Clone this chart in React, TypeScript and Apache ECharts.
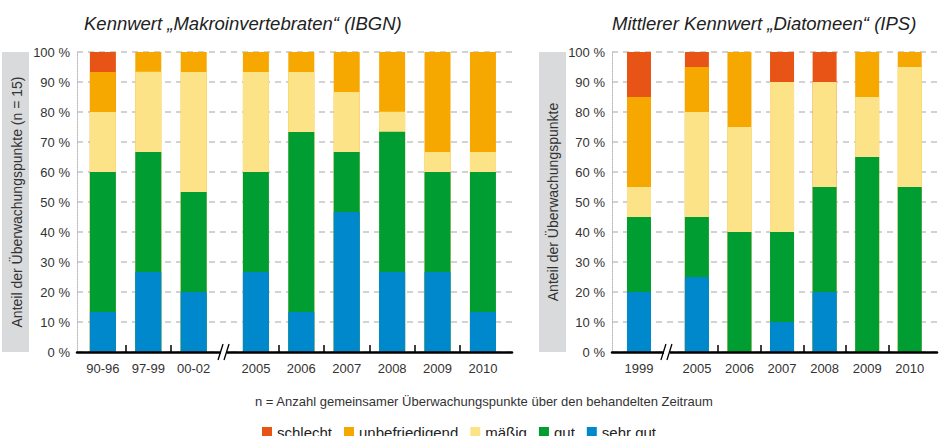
import React, { useEffect, useRef } from "react";
import * as echarts from "echarts";

// ---------- data ----------
const LEFT_CATS = ["90-96", "97-99", "00-02", "2005", "2006", "2007", "2008", "2009", "2010"];
const LEFT_POS = [0, 1, 2, 3.37, 4.37, 5.37, 6.37, 7.37, 8.37];
const LEFT_TICKS = [0.5, 1.5, 3.87, 4.87, 5.87, 6.87, 7.87];
const LEFT_BREAK = [2.69];

const L_SEHR_GUT = [13.3, 26.7, 20, 26.7, 13.3, 46.7, 26.7, 26.7, 13.3];
const L_GUT = [46.7, 40, 33.3, 33.3, 60, 20, 46.7, 33.3, 46.7];
const L_MAESSIG = [20, 26.7, 40, 33.3, 20, 20, 6.7, 6.7, 6.7];
const L_UNBEFR = [13.3, 6.7, 6.7, 6.7, 6.7, 13.3, 20, 33.3, 33.3];
const L_SCHLECHT = [6.7, 0, 0, 0, 0, 0, 0, 0, 0];

const RIGHT_CATS = ["1999", "2005", "2006", "2007", "2008", "2009", "2010"];
const RIGHT_POS = [0, 1.36, 2.36, 3.36, 4.36, 5.36, 6.36];
const RIGHT_TICKS = [1.86, 2.86, 3.86, 4.86, 5.86];
const RIGHT_BREAK = [0.68];

const R_SEHR_GUT = [20, 25, 0, 10, 20, 0, 0];
const R_GUT = [25, 20, 40, 30, 35, 65, 55];
const R_MAESSIG = [10, 35, 35, 50, 35, 20, 40];
const R_UNBEFR = [30, 15, 25, 0, 0, 15, 5];
const R_SCHLECHT = [15, 5, 0, 10, 10, 0, 0];

const Y_MAX = 100;
const Y_INTERVAL = 10;

const CLASSES = ["schlecht", "unbefriedigend", "mäßig", "gut", "sehr gut"];
const COLORS: Record<string, string> = {
  "schlecht": "#e85415",
  "unbefriedigend": "#f6a800",
  "mäßig": "#fde388",
  "gut": "#009d33",
  "sehr gut": "#0088cc",
};

const TITLE_LEFT = "Kennwert „Makroinvertebraten“ (IBGN)";
const TITLE_RIGHT = "Mittlerer Kennwert „Diatomeen“ (IPS)";
const Y_NAME_LEFT = "Anteil der Überwachungspunkte (n = 15)";
const Y_NAME_RIGHT = "Anteil der Überwachungspunkte";
const FOOTNOTE = "n = Anzahl gemeinsamer Überwachungspunkte über den behandelten Zeitraum";

const FONT = "'Liberation Sans', Arial, sans-serif";

export default function App() {
  const ref = useRef<HTMLDivElement>(null);

  useEffect(() => {
    if (!ref.current) return;
    const chart = echarts.init(ref.current, null, { renderer: "svg" });

    const labelFor = (pos: number[], cats: string[]) => (v: number) => {
      const i = pos.findIndex((p) => Math.abs(p - v) < 1e-6);
      return i >= 0 ? cats[i] : "";
    };

    const makeX = (gridIndex: number, min: number, max: number, pos: number[], cats: string[], ticks: number[]) => ({
      type: "value",
      gridIndex,
      min,
      max,
      z: 5,
      splitLine: { show: false },
      axisLine: { show: true, onZero: false, lineStyle: { color: "#000", width: 2.5 } },
      axisTick: {
        show: true,
        inside: true,
        length: 7,
        customValues: ticks,
        lineStyle: { color: "#000", width: 1.5 },
      },
      axisLabel: {
        show: true,
        customValues: pos,
        formatter: labelFor(pos, cats),
        color: "#333",
        fontSize: 13,
        fontFamily: FONT,
        margin: 10,
      },
    });

    const makeY = (gridIndex: number) => ({
      type: "value",
      gridIndex,
      min: 0,
      max: Y_MAX,
      interval: Y_INTERVAL,
      axisLine: { show: true, onZero: false, lineStyle: { color: "#b8b8b8", type: "dotted", width: 1 } },
      axisTick: { show: false },
      axisLabel: {
        formatter: (v: number) => v + " %",
        color: "#333",
        fontSize: 13,
        fontFamily: FONT,
        margin: 7,
      },
      splitLine: { show: true, lineStyle: { color: "#c4c4c4", type: [6, 5], width: 1.6 } },
    });

    // Stacked bars drawn as overlapping cumulative bars (value x-axis cannot stack on y)
    const buildSeries = (sets: [string, number[]][], pos: number[], idx: number, width: number) => {
      // sets ordered bottom -> top
      const cum: number[][] = [];
      sets.forEach(([, vals], k) => {
        cum.push(vals.map((v, i) => v + (k > 0 ? cum[k - 1][i] : 0)));
      });
      const out: any[] = [];
      for (let k = sets.length - 1; k >= 0; k--) {
        const name = sets[k][0];
        const vals = sets[k][1];
        out.push({
          name,
          type: "bar",
          xAxisIndex: idx,
          yAxisIndex: idx,
          barWidth: width,
          barGap: "-100%",
          itemStyle: { color: COLORS[name] },
          data: pos.map((x, i) => [x, vals[i] > 0 ? Math.min(cum[k][i], Y_MAX) : null]),
        });
      }
      return out;
    };

    const breakSeries = (idx: number, where: number[]) => ({
      type: "custom",
      xAxisIndex: idx,
      yAxisIndex: idx,
      z: 10,
      silent: true,
      data: where.map((x) => [x, 0]),
      renderItem: (params: any, api: any) => {
        const p = api.coord([api.value(0), 0]);
        const c = p[0];
        const y = p[1];
        return {
          type: "group",
          children: [
            { type: "rect", shape: { x: c - 4, y: y - 2.5, width: 6, height: 5 }, style: { fill: "#fff" } },
            { type: "line", shape: { x1: c - 7, y1: y + 8, x2: c - 2, y2: y - 8 }, style: { stroke: "#000", lineWidth: 1.3 } },
            { type: "line", shape: { x1: c - 1, y1: y + 8, x2: c + 4, y2: y - 8 }, style: { stroke: "#000", lineWidth: 1.3 } },
          ],
        };
      },
    });

    const leftSets: [string, number[]][] = [
      ["sehr gut", L_SEHR_GUT],
      ["gut", L_GUT],
      ["mäßig", L_MAESSIG],
      ["unbefriedigend", L_UNBEFR],
      ["schlecht", L_SCHLECHT],
    ];
    const rightSets: [string, number[]][] = [
      ["sehr gut", R_SEHR_GUT],
      ["gut", R_GUT],
      ["mäßig", R_MAESSIG],
      ["unbefriedigend", R_UNBEFR],
      ["schlecht", R_SCHLECHT],
    ];

    const titleStyle = { fontStyle: "italic", fontWeight: "normal", fontSize: 18.5, color: "#222", fontFamily: FONT };

    const option: any = {
      animation: false,
      backgroundColor: "#fff",
      textStyle: { fontFamily: FONT },
      title: [
        { text: TITLE_LEFT, left: 79, top: 9, textStyle: titleStyle },
        { text: TITLE_RIGHT, left: 607, top: 9, textStyle: titleStyle },
        {
          text: FOOTNOTE,
          left: 250,
          top: 390,
          textStyle: { fontWeight: "normal", fontSize: 13, color: "#333", fontFamily: FONT },
        },
      ],
      legend: {
        data: CLASSES,
        left: 257,
        top: 420,
        icon: "rect",
        itemWidth: 10,
        itemHeight: 11,
        itemGap: 12,
        textStyle: { fontSize: 15, color: "#222", fontFamily: FONT },
      },
      grid: [
        { left: 77, top: 52, width: 435, height: 300 },
        { left: 612, top: 52, width: 325, height: 300 },
      ],
      xAxis: [
        makeX(0, -0.57, 9.01, LEFT_POS, LEFT_CATS, LEFT_TICKS),
        makeX(1, -0.634, 7.0, RIGHT_POS, RIGHT_CATS, RIGHT_TICKS),
      ],
      yAxis: [makeY(0), makeY(1)],
      graphic: [
        { type: "rect", left: 2, top: 52, shape: { width: 27, height: 300 }, style: { fill: "#d9dadb" } },
        {
          type: "text",
          x: 17,
          y: 202,
          rotation: Math.PI / 2,
          style: {
            text: Y_NAME_LEFT,
            fontSize: 14,
            fontFamily: FONT,
            fill: "#333",
            align: "center",
            verticalAlign: "middle",
          },
        },
        { type: "rect", left: 539, top: 52, shape: { width: 27, height: 300 }, style: { fill: "#d9dadb" } },
        {
          type: "text",
          x: 553,
          y: 202,
          rotation: Math.PI / 2,
          style: {
            text: Y_NAME_RIGHT,
            fontSize: 14,
            fontFamily: FONT,
            fill: "#333",
            align: "center",
            verticalAlign: "middle",
          },
        },
      ],
      series: [
        ...buildSeries(leftSets, LEFT_POS, 0, 26),
        ...buildSeries(rightSets, RIGHT_POS, 1, 24),
        breakSeries(0, LEFT_BREAK),
        breakSeries(1, RIGHT_BREAK),
      ],
    };

    chart.setOption(option);
    return () => chart.dispose();
  }, []);

  return (
    <div
      ref={ref}
      style={{ position: "absolute", left: 0, top: 0, width: 940, height: 436, background: "#fff" }}
    />
  );
}
